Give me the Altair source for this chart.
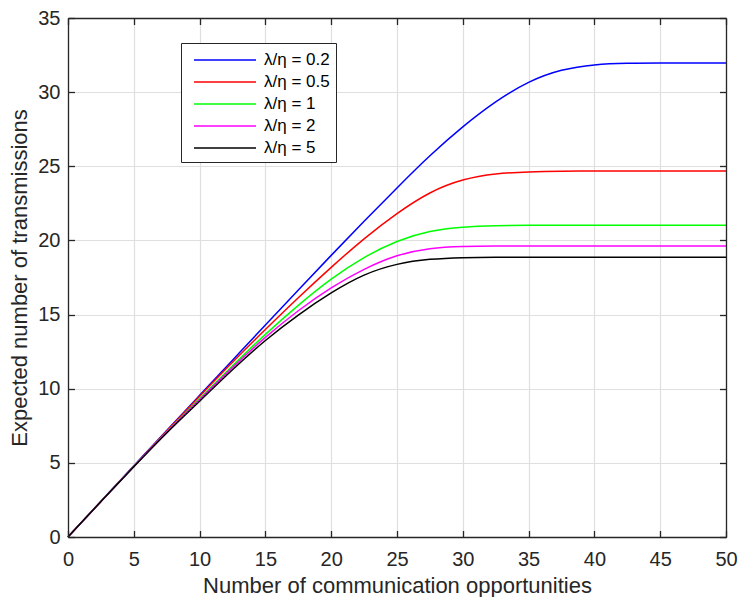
import altair as alt
import pandas as pd

# ---- data ----
x_vals = [0, 2.5, 5, 7.5, 10, 12.5, 15, 17.5, 20, 22.5, 25, 27.5, 30,
          32.5, 35, 37.5, 40, 42.5, 45, 47.5, 50]
series_labels = ["λ/η = 0.2", "λ/η = 0.5", "λ/η = 1", "λ/η = 2", "λ/η = 5"]
series_colors = ["#0000ff", "#ff0000", "#00ff00", "#ff00ff", "#000000"]

y_02 = [0, 2.4, 4.8, 7.18, 9.55, 11.92, 14.3, 16.65, 19.0, 21.3, 23.55, 25.75, 27.7,
        29.4, 30.75, 31.55, 31.88, 31.96, 31.97, 31.97, 31.97]
y_05 = [0, 2.4, 4.78, 7.15, 9.5, 11.8, 14.0, 16.15, 18.2, 20.15, 21.85, 23.3, 24.15,
        24.52, 24.63, 24.67, 24.68, 24.68, 24.68, 24.68, 24.68]
y_1 = [0, 2.4, 4.77, 7.1, 9.35, 11.55, 13.7, 15.65, 17.45, 18.9, 20.0, 20.68, 20.92,
       21.0, 21.02, 21.02, 21.02, 21.02, 21.02, 21.02, 21.02]
y_2 = [0, 2.4, 4.76, 7.08, 9.25, 11.45, 13.5, 15.3, 16.85, 18.1, 19.05, 19.5, 19.6,
       19.62, 19.62, 19.62, 19.62, 19.62, 19.62, 19.62, 19.62]
y_5 = [0, 2.4, 4.75, 7.05, 9.15, 11.3, 13.3, 15.0, 16.5, 17.75, 18.45, 18.76, 18.85,
       18.87, 18.87, 18.87, 18.87, 18.87, 18.87, 18.87, 18.87]

x_ticks = [0, 5, 10, 15, 20, 25, 30, 35, 40, 45, 50]
y_ticks = [0, 5, 10, 15, 20, 25, 30, 35]

rows = []
for lab, ys in zip(series_labels, [y_02, y_05, y_1, y_2, y_5]):
    for xv, yv in zip(x_vals, ys):
        rows.append({"x": xv, "y": yv, "series": lab})
df = pd.DataFrame(rows)

W, H = 658, 519
AX = "#262626"
FONT = "Liberation Sans"

x_scale = alt.Scale(domain=[0, 50], nice=False, zero=False)
y_scale = alt.Scale(domain=[0, 35], nice=False)

base = alt.Chart(df)

lines = base.mark_line(strokeWidth=1.5, interpolate="basis").encode(
    x=alt.X("x:Q", scale=x_scale,
            axis=alt.Axis(orient="bottom", values=x_ticks, title="Number of communication opportunities",
                          grid=True, gridColor="#dfdfdf", gridWidth=1.2,
                          ticks=False, tickSize=0, domain=False, labelFlush=False,
                          labelFontSize=20, labelColor=AX, labelPadding=12,
                          titleFontSize=22, titleColor=AX, titleFontWeight="normal", titlePadding=6,
                          zindex=0)),
    y=alt.Y("y:Q", scale=y_scale,
            axis=alt.Axis(orient="left", values=y_ticks, title="Expected number of transmissions",
                          grid=True, gridColor="#dfdfdf", gridWidth=1.2,
                          ticks=False, tickSize=0, domain=False, labelFlush=False,
                          labelFontSize=20, labelColor=AX, labelPadding=8,
                          titleFontSize=22, titleColor=AX, titleFontWeight="normal", titlePadding=6,
                          zindex=0)),
    color=alt.Color("series:N",
                    scale=alt.Scale(domain=series_labels, range=series_colors),
                    legend=alt.Legend(orient="none", legendX=113, legendY=25, title=None,
                                      symbolType="M-0.4,0H5.8", symbolSize=400, symbolStrokeWidth=1.5,
                                      labelFontSize=17, labelColor="black", labelOffset=55,
                                      labelFont=FONT, padding=6, rowPadding=3,
                                      strokeColor=AX, fillColor="white")),
)

tick_axis = dict(labels=False, ticks=True, tickSize=6.5, tickColor=AX, tickWidth=1.3,
                 domain=True, domainColor=AX, domainWidth=1.3, grid=False, title=None, zindex=1)

ticks_bl = base.mark_line(strokeOpacity=0).encode(
    x=alt.X("x:Q", scale=x_scale, axis=alt.Axis(orient="top", offset=-H, values=x_ticks, **tick_axis)),
    y=alt.Y("y:Q", scale=y_scale, axis=alt.Axis(orient="right", offset=-W, values=y_ticks, **tick_axis)),
    detail="series:N",
)

ticks_tr = base.mark_line(strokeOpacity=0).encode(
    x=alt.X("x:Q", scale=x_scale, axis=alt.Axis(orient="bottom", offset=-H, values=x_ticks, **tick_axis)),
    y=alt.Y("y:Q", scale=y_scale, axis=alt.Axis(orient="left", offset=-W, values=y_ticks, **tick_axis)),
    detail="series:N",
)

chart = alt.layer(lines, ticks_bl, ticks_tr).resolve_axis(
    x="independent", y="independent"
).properties(
    width=W, height=H, autosize="none",
    padding={"left": 60, "top": 10, "right": 12, "bottom": 60},
).configure(font=FONT).configure_view(stroke="transparent")

chart.save("out.html", embed_options={"renderer": "svg", "actions": False})
